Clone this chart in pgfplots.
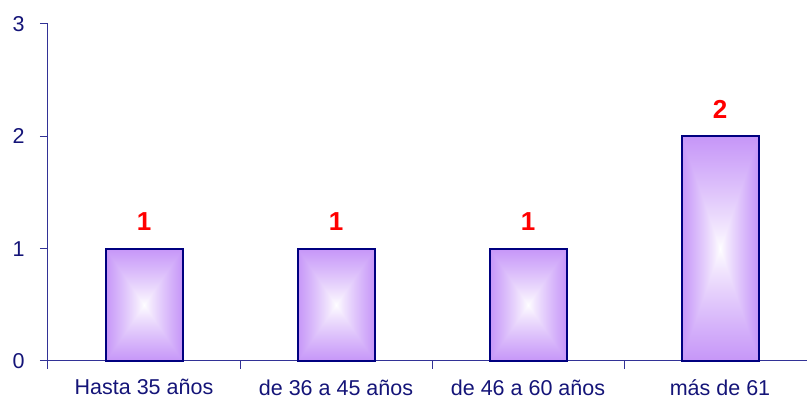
\documentclass[border=0pt]{standalone}
\usepackage{pgfplots}
\pgfplotsset{compat=1.18}
\usepackage{fontspec}
\setmainfont{Liberation Sans}
\definecolor{navy}{RGB}{0,0,128}
\definecolor{axisblue}{RGB}{50,50,150}
\definecolor{textnavy}{RGB}{20,20,120}
\pgfdeclarefunctionalshading{barshade}{\pgfpoint{-50bp}{-50bp}}{\pgfpoint{50bp}{50bp}}{}{
abs exch abs 2 copy lt {exch} if pop 25 div dup 1 gt {pop 1} if 0.85 exp
dup 0.224 mul 1 exch sub exch dup 0.412 mul 1 exch sub exch 0.027 mul 1 exch sub
}
\begin{document}
\begin{tikzpicture}
\useasboundingbox (-48pt,-42pt) rectangle (759pt,361pt);
\begin{axis}[
  scale only axis, width=759pt, height=337pt,
  xmin=-0.5, xmax=3.453, ymin=0, ymax=3,
  clip=false,
  axis lines*=left,
  axis line style={axisblue, line width=1pt},
  ytick={0,1,2,3},
  xtick={-0.5,0.5,1.5,2.5},
  xticklabels={Hasta 35 años, de 36 a 45 años, de 46 a 60 años, más de 61},
  tick align=outside,
  major tick length=8pt,
  tick style={axisblue, line width=1pt},
  yticklabel style={font=\fontsize{21.5}{21.5}\selectfont, text=textnavy, xshift=-12pt},
  xticklabel style={font=\fontsize{21.5}{21.5}\selectfont, text=textnavy, xshift=96pt, yshift=-7pt},
  /pgf/number format/assume math mode=true,
  every node near coord/.style={font=\bfseries\fontsize{26}{26}\selectfont, text=red, anchor=south, inner sep=0pt, yshift=17pt},
]
\addplot[ybar, bar width=77pt, bar shift=0pt, draw=navy, line width=2pt, shading=barshade, nodes near coords] coordinates {(0,1)};
\addplot[ybar, bar width=77pt, bar shift=0pt, draw=navy, line width=2pt, shading=barshade, nodes near coords] coordinates {(1,1)};
\addplot[ybar, bar width=77pt, bar shift=0pt, draw=navy, line width=2pt, shading=barshade, nodes near coords] coordinates {(2,1)};
\addplot[ybar, bar width=77pt, bar shift=0pt, draw=navy, line width=2pt, shading=barshade, nodes near coords] coordinates {(3,2)};
\end{axis}
\end{tikzpicture}
\end{document}
